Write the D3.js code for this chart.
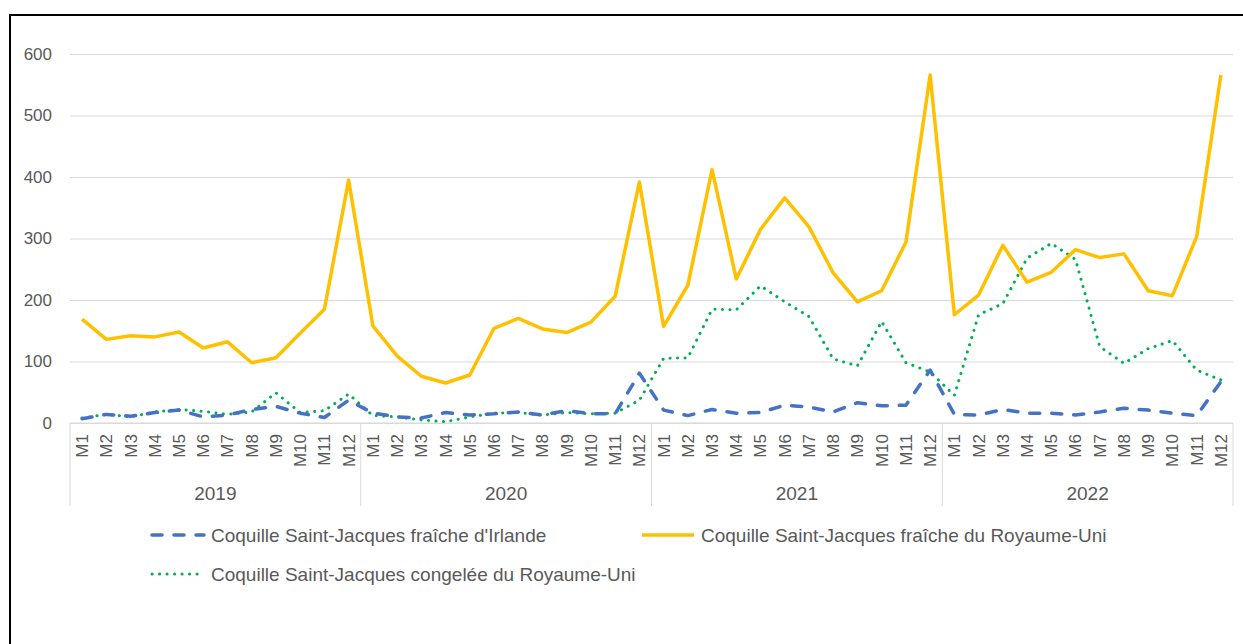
<!DOCTYPE html>
<html>
<head>
<meta charset="utf-8">
<script src="https://cdn.jsdelivr.net/npm/d3@7"></script>
<style>
  body { margin: 0; background: #fff; }
  svg { display: block; font-family: "Liberation Sans", Arial, sans-serif; }
</style>
</head>
<body>
<svg id="chart"></svg>
<script>
// category levels
const years = ['2019', '2020', '2021', '2022'];
const months = ['M1', 'M2', 'M3', 'M4', 'M5', 'M6', 'M7', 'M8', 'M9', 'M10', 'M11', 'M12'];
const yTicks = [0, 100, 200, 300, 400, 500, 600];

// series values, 48 months 2019 -> 2022
const irlandeFraiche = [
  7, 14, 11, 17, 21, 10, 13, 22, 27, 16, 9, 37,
  16, 10, 8, 17, 13, 15, 18, 13, 20, 15, 15, 81,
  21, 12, 22, 16, 17, 29, 26, 18, 33, 28, 29, 86,
  14, 13, 22, 16, 16, 13, 18, 24, 21, 16, 12, 67
];
const ruFraiche = [
  169, 136, 142, 140, 148, 122, 132, 98, 106, 146, 185, 395,
  158, 109, 76, 65, 78, 154, 170, 153, 147, 164, 206, 392,
  157, 224, 412, 234, 315, 366, 319, 244, 197, 215, 294, 566,
  176, 208, 289, 229, 245, 282, 269, 275, 215, 207, 303, 566
];
const ruCongelee = [
  8, 14, 10, 18, 22, 19, 14, 18, 49, 17, 20, 47,
  12, 10, 5, 2, 10, 16, 17, 13, 17, 15, 16, 37,
  105, 106, 185, 184, 223, 197, 173, 104, 93, 165, 98, 83,
  45, 176, 194, 268, 292, 266, 124, 97, 121, 134, 86, 70
];

const seriesNames = [
  "Coquille Saint-Jacques fraîche d'Irlande",
  'Coquille Saint-Jacques fraîche du Royaume-Uni',
  'Coquille Saint-Jacques congelée du Royaume-Uni'
];

class LineChart {

  constructor(_config) {
    this.config = {
      parentElement: _config.parentElement,
      containerWidth: _config.containerWidth || 1243,
      containerHeight: _config.containerHeight || 644,
      margin: _config.margin || {top: 54, right: 10, bottom: 221, left: 70}
    };
    this.initVis();
  }

  initVis() {
    let vis = this;

    vis.width = vis.config.containerWidth - vis.config.margin.left - vis.config.margin.right;
    vis.height = vis.config.containerHeight - vis.config.margin.top - vis.config.margin.bottom;

    vis.svg = d3.select(vis.config.parentElement)
        .attr('width', vis.config.containerWidth)
        .attr('height', vis.config.containerHeight);

    // outer frame (right and bottom edges fall outside the picture)
    vis.svg.append('rect')
        .attr('x', 10)
        .attr('y', 15)
        .attr('width', 1260)
        .attr('height', 700)
        .attr('fill', 'none')
        .attr('stroke', '#000')
        .attr('stroke-width', 2);

    vis.chart = vis.svg.append('g')
        .attr('transform', `translate(${vis.config.margin.left},${vis.config.margin.top})`);

    vis.categories = [];
    years.forEach(y => months.forEach(m => vis.categories.push(`${y}-${m}`)));

    vis.xScale = d3.scaleBand()
        .domain(vis.categories)
        .range([0, vis.width]);

    vis.yearScale = d3.scaleBand()
        .domain(years)
        .range([0, vis.width]);

    vis.yScale = d3.scaleLinear()
        .domain([0, 600])
        .range([vis.height, 0]);

    vis.yAxis = d3.axisLeft(vis.yScale)
        .tickValues(yTicks)
        .tickSize(-vis.width)
        .tickPadding(18);

    vis.xAxis = d3.axisBottom(vis.xScale)
        .tickSize(0)
        .tickFormat(d => d.split('-')[1]);

    vis.yAxisG = vis.chart.append('g')
        .attr('class', 'axis y-axis');

    vis.xAxisG = vis.chart.append('g')
        .attr('class', 'axis x-axis')
        .attr('transform', `translate(0,${vis.height})`);

    vis.marks = vis.chart.append('g');
    vis.legend = vis.svg.append('g');
  }

  updateVis() {
    let vis = this;
    vis.line = d3.line()
        .x((d, i) => vis.xScale(vis.categories[i]) + vis.xScale.bandwidth() / 2)
        .y(d => vis.yScale(d));

    vis.series = [
      {name: seriesNames[2], values: ruCongelee, color: '#00B050', width: 3, dash: '0.1,7.4'},
      {name: seriesNames[1], values: ruFraiche, color: '#FFC000', width: 3.5, dash: null},
      {name: seriesNames[0], values: irlandeFraiche, color: '#4472C4', width: 3.5, dash: '10,12'}
    ];
    vis.renderVis();
  }

  renderVis() {
    let vis = this;

    vis.yAxisG.call(vis.yAxis);
    vis.yAxisG.select('.domain').remove();
    vis.yAxisG.selectAll('.tick line')
        .attr('stroke', '#d9d9d9')
        .attr('stroke-width', 1);
    vis.yAxisG.selectAll('.tick text')
        .style('font-size', '17px')
        .attr('fill', '#595959');

    vis.xAxisG.call(vis.xAxis);
    vis.xAxisG.select('.domain').remove();
    vis.xAxisG.selectAll('.tick text')
        .attr('transform', 'rotate(-90)')
        .attr('text-anchor', 'end')
        .attr('x', -11)
        .attr('y', 0)
        .attr('dy', '0.35em')
        .style('font-size', '17px')
        .attr('fill', '#595959');

    // baseline and year separators of the two-level axis
    vis.xAxisG.append('line')
        .attr('x1', 0)
        .attr('x2', vis.width)
        .attr('stroke', '#d9d9d9');

    vis.xAxisG.selectAll('.year-sep')
        .data(years.concat(['end']))
        .join('line')
          .attr('class', 'year-sep')
          .attr('x1', d => d === 'end' ? vis.width : vis.yearScale(d))
          .attr('x2', d => d === 'end' ? vis.width : vis.yearScale(d))
          .attr('y1', 0)
          .attr('y2', 83)
          .attr('stroke', '#d9d9d9');

    vis.xAxisG.selectAll('.year-label')
        .data(years)
        .join('text')
          .attr('class', 'year-label')
          .attr('x', d => vis.yearScale(d) + vis.yearScale.bandwidth() / 2)
          .attr('y', 77)
          .attr('text-anchor', 'middle')
          .style('font-size', '19px')
          .attr('fill', '#595959')
          .text(d => d);

    vis.marks.selectAll('.chart-line')
        .data(vis.series)
        .join('path')
          .attr('class', 'chart-line')
          .attr('d', d => vis.line(d.values))
          .attr('fill', 'none')
          .attr('stroke', d => d.color)
          .attr('stroke-width', d => d.width)
          .attr('stroke-dasharray', d => d.dash)
          .attr('stroke-linecap', d => d.dash ? 'round' : 'butt')
          .attr('stroke-linejoin', 'round');

    // legend
    const legendItems = [
      {s: vis.series[2], x: 150, y: 535},
      {s: vis.series[1], x: 640, y: 535},
      {s: vis.series[0], x: 150, y: 574}
    ];
    const item = vis.legend.selectAll('.legend-item')
        .data(legendItems)
        .join('g')
          .attr('class', 'legend-item')
          .attr('transform', d => `translate(${d.x},${d.y})`);

    item.append('line')
        .attr('x1', 2)
        .attr('x2', 54)
        .attr('stroke', d => d.s.color)
        .attr('stroke-width', d => d.s.width)
        .attr('stroke-dasharray', d => d.s.dash)
        .attr('stroke-linecap', d => d.s.dash ? 'round' : 'butt');

    item.append('text')
        .attr('x', 61)
        .attr('dy', '0.35em')
        .style('font-size', '19px')
        .attr('fill', '#595959')
        .text(d => d.s.name);
  }
}

const chart = new LineChart({parentElement: '#chart'});
chart.updateVis();
</script>
</body>
</html>
